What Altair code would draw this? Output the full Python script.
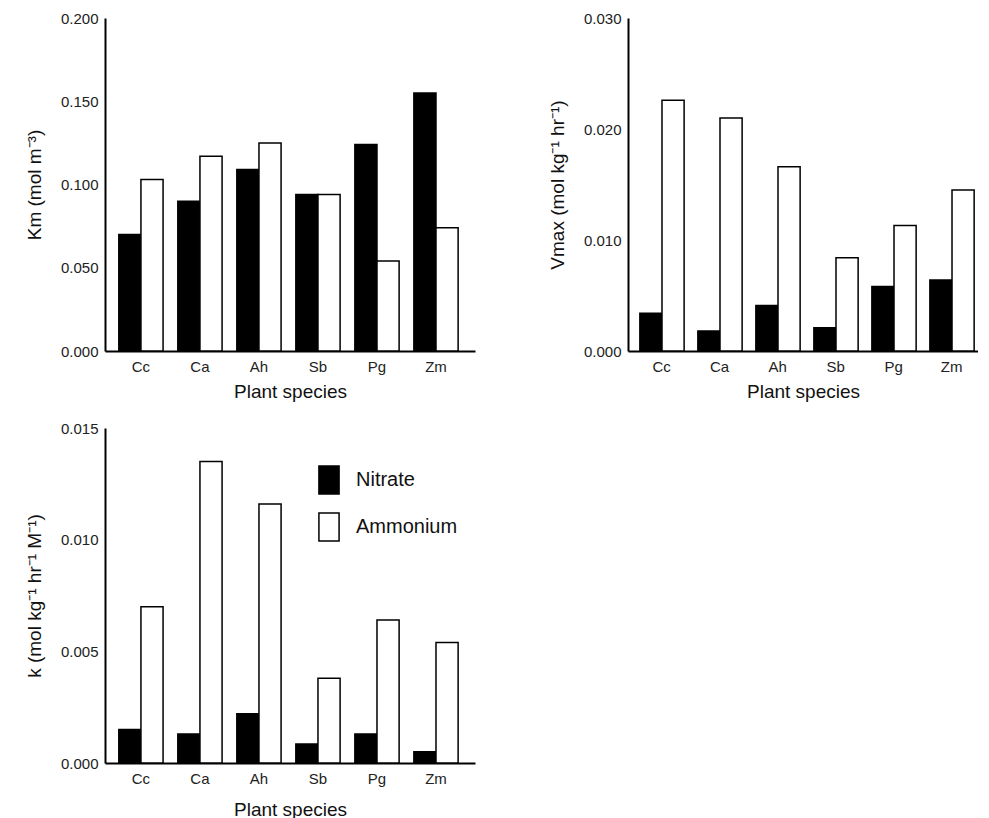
import altair as alt
import pandas as pd

species = ["Cc", "Ca", "Ah", "Sb", "Pg", "Zm"]
ions = ["Nitrate", "Ammonium"]

km_nitrate = [0.070, 0.090, 0.109, 0.094, 0.124, 0.155]
km_ammonium = [0.103, 0.117, 0.125, 0.094, 0.054, 0.074]

vmax_nitrate = [0.0034, 0.0018, 0.0041, 0.0021, 0.0058, 0.0064]
vmax_ammonium = [0.0226, 0.0210, 0.0166, 0.0084, 0.0113, 0.0145]

k_nitrate = [0.0015, 0.0013, 0.0022, 0.00085, 0.0013, 0.0005]
k_ammonium = [0.0070, 0.0135, 0.0116, 0.0038, 0.0064, 0.0054]

y_titles = ["Km (mol m⁻³)", "Vmax (mol kg⁻¹ hr⁻¹)", "k (mol kg⁻¹ hr⁻¹ M⁻¹)"]
y_max = [0.200, 0.030, 0.015]
y_step = [0.050, 0.010, 0.005]

FONT = "Liberation Sans"


def frame(nit, amm):
    rows = []
    for s, n, a in zip(species, nit, amm):
        rows.append({"species": s, "ion": "Nitrate", "value": n})
        rows.append({"species": s, "ion": "Ammonium", "value": a})
    return pd.DataFrame(rows)


def panel(df, ytitle, ymax, step, width, height, x_scale, legend=None, x_title_pad=8):
    n = int(round(ymax / step))
    major = [round(i * step, 6) for i in range(n + 1)]
    return alt.Chart(df).mark_bar(stroke="black", strokeWidth=1.5).encode(
        x=alt.X(
            "species:N",
            sort=species,
            scale=x_scale,
            axis=alt.Axis(
                title="Plant species",
                labelAngle=0,
                ticks=False,
                labelPadding=8,
                titlePadding=x_title_pad,
            ),
        ),
        xOffset=alt.XOffset(
            "ion:N",
            sort=ions,
            scale=alt.Scale(domain=ions, paddingInner=0, paddingOuter=0),
        ),
        y=alt.Y(
            "value:Q",
            scale=alt.Scale(domain=[0, ymax], nice=False, zero=True),
            axis=alt.Axis(
                title=ytitle,
                values=major,
                format=".3f",
                ticks=False,
                labelPadding=7,
                titlePadding=16,
            ),
        ),
        fill=alt.Fill(
            "ion:N",
            sort=ions,
            scale=alt.Scale(domain=ions, range=["black", "white"]),
            legend=legend,
        ),
    ).properties(width=width, height=height)


scale_left = alt.Scale(paddingInner=0.25, paddingOuter=0.26, align=0.45)
scale_right = alt.Scale(paddingInner=0.25, paddingOuter=0.142, align=0.72)

legend = alt.Legend(
    title=None,
    orient="none",
    legendX=209,
    legendY=37,
    symbolType="M-0.72,-1H0.72V1H-0.72Z",
    symbolSize=784,
    symbolStrokeColor="black",
    symbolStrokeWidth=1.5,
    labelFont=FONT,
    labelFontSize=20,
    labelColor="#111111",
    labelOffset=12,
    rowPadding=13,
)

p1 = panel(frame(km_nitrate, km_ammonium), y_titles[0], y_max[0], y_step[0], 370, 333, scale_left)
p2 = panel(frame(vmax_nitrate, vmax_ammonium), y_titles[1], y_max[1], y_step[1], 350, 333, scale_right)
p3 = panel(frame(k_nitrate, k_ammonium), y_titles[2], y_max[2], y_step[2], 370, 335, scale_left,
           legend=legend, x_title_pad=14)

top = alt.hconcat(p1, p2, spacing=73).resolve_scale(fill="independent")
chart = alt.vconcat(top, p3, spacing=20).resolve_scale(fill="independent").properties(
    padding={"left": 17, "top": 3, "right": 0, "bottom": 0}
).configure_view(stroke=None).configure_axis(
    domainColor="black",
    domainWidth=2,
    grid=False,
    labelFont=FONT,
    labelFontSize=15,
    labelColor="#222222",
    titleFont=FONT,
    titleFontSize=19,
    titleFontWeight="normal",
    titleColor="#111111",
)

chart.save("out.html", embed_options={"renderer": "svg", "actions": False})
